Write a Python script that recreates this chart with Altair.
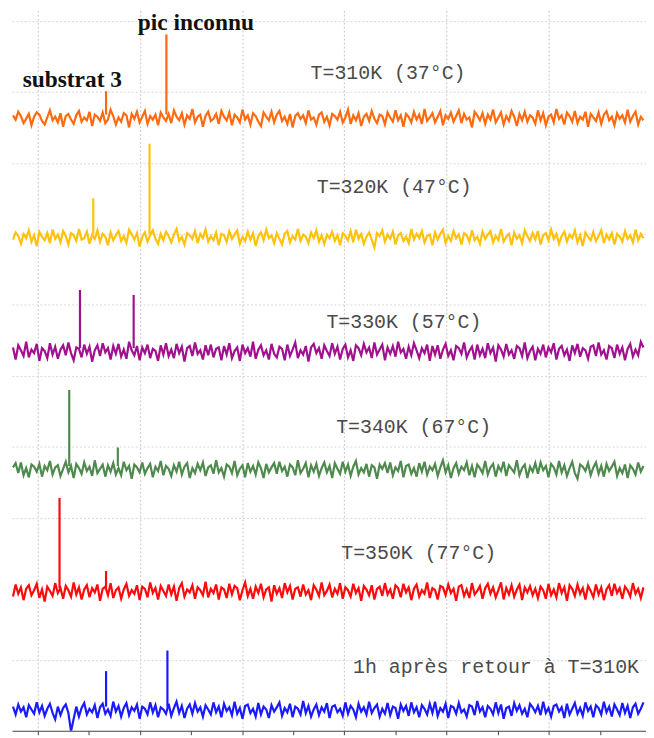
import altair as alt
import pandas as pd

# ---- data ----
series = ["T=310K", "T=320K", "T=330K", "T=340K", "T=350K", "1h retour 310K"]
colors = ["#ff6a0e", "#ffc20a", "#a0108f", "#4e8a4e", "#ff0a0a", "#1a1aff"]
offsets = [86.3, 69.5, 53.4, 36.8, 19.6, 2.9]

noise_310 = [
0.4,-0.2,0.9,0.3,-0.7,-0.1,0.6,-1.0,0.2,0.8,0.5,-0.4,-0.9,0.1,1.1,-0.3,0.2,-0.6,0.7,-1.2,
0.3,0.6,-0.2,-0.8,0.4,1.0,-0.5,0.1,-0.3,0.9,-1.1,0.5,0.2,-0.4,0.8,-0.7,-0.2,1.2,0.3,-0.9,
0.1,-0.5,0.7,0.4,-1.3,0.6,-0.1,0.9,-0.6,0.2,1.0,-0.8,0.3,-0.2,0.5,-1.0,0.8,0.1,-0.4,0.6,
-0.7,1.1,0.2,-0.3,0.7,-0.9,0.4,-0.1,1.3,-0.6,0.2,0.5,-1.2,0.3,0.9,-0.4,-0.1,0.6,-0.8,1.0,
0.2,-0.3,0.8,-1.0,0.5,0.1,-0.6,1.2,-0.2,0.4,-0.9,0.7,0.3,-0.5,-1.1,0.8,0.2,-0.3,0.9,-0.6,
0.5,1.0,-0.4,0.2,-0.8,0.6,-1.3,0.3,0.7,-0.1,0.4,-0.7,1.1,-0.2,0.1,-0.9,0.5,0.8,-0.5,0.2,
-1.0,0.6,0.3,-0.2,0.9,-0.6,0.1,1.2,-0.8,0.4,-0.3,0.7,-1.1,0.2,0.6,-0.4,1.0,-0.1,-0.7,0.5,
0.3,-0.9,0.8,0.1,-0.5,1.1,-0.3,0.4,-1.2,0.6,0.2,-0.6,0.9,-0.2,0.5,-0.8,1.3,-0.4,0.1,0.7,
-0.6,0.2,1.0,-1.0,0.4,-0.1,0.8,-0.5,0.3,1.1,-0.7,0.6,-0.2,0.1,-1.3,0.9,0.4,-0.3,0.7,-0.8,
0.5,-0.2,1.2,-0.6,0.1,0.8,-0.9,0.3,-0.4,1.0,0.2,-1.1,0.6,-0.3,0.9,-0.5,0.4,0.1,-0.8,1.1,
-0.3,0.7,-1.0,0.2,0.5,-0.6,1.3,-0.1,0.4,-0.9,0.8,0.3,-0.5,1.0,-0.7,0.2,-0.2,0.9,-1.2,0.6,
0.1,-0.4,0.8,-0.8,0.5,1.0,-0.3,0.2,-1.0,0.7,-0.1,0.4,-0.6,1.2,-0.5,0.3,0.9,-0.9,0.2,-0.3]

noise_320 = [
-0.3,0.7,0.2,-0.9,0.5,-0.1,1.0,-0.6,0.3,-1.2,0.8,0.1,-0.4,0.6,-0.8,1.1,-0.2,0.4,-0.7,0.9,
0.2,-1.0,0.6,0.3,-0.5,1.2,-0.3,-0.1,0.8,-0.9,0.4,-0.2,1.0,-0.6,0.5,0.1,-1.1,0.7,-0.4,0.3,
0.9,-0.5,0.2,-0.8,1.1,0.4,-0.3,0.6,-1.3,0.1,0.7,-0.6,0.3,1.0,-0.2,-0.9,0.5,-0.4,0.8,0.2,
-0.7,0.4,1.2,-0.5,0.1,-1.0,0.6,0.3,-0.2,0.9,-0.8,0.5,-0.1,1.1,-0.6,0.2,-0.4,0.7,-1.1,0.5,
0.3,-0.6,0.9,-0.2,0.4,1.0,-0.9,0.1,-0.5,0.8,-0.3,0.6,-1.2,0.2,0.7,-0.4,1.1,-0.1,0.3,-0.8,
0.6,-0.2,-1.0,0.5,0.9,-0.7,0.2,-0.3,1.2,-0.5,0.4,0.1,-0.8,0.7,-0.1,1.0,-0.6,0.3,-0.9,0.4,
-0.1,0.8,-0.5,0.3,-1.1,0.6,0.2,-0.4,0.9,-0.7,1.1,-0.2,0.5,-0.9,0.1,0.7,-0.3,-1.4,0.6,0.2,
1.0,-0.6,0.4,-0.2,0.8,-1.0,0.3,0.6,-0.5,0.1,-0.8,1.2,-0.3,0.5,-0.1,0.9,-0.7,0.2,0.4,-1.1,
0.7,-0.3,0.5,1.1,-0.8,0.2,-0.5,0.9,-0.1,0.4,-1.0,0.6,0.3,-0.6,1.0,-0.4,0.1,-0.9,0.8,-0.2,
0.4,0.9,-0.7,0.2,-0.4,1.2,-0.6,0.1,0.5,-1.1,0.7,-0.2,0.3,-0.8,1.0,0.2,-0.5,0.6,-0.3,0.9,
-1.0,0.3,0.6,-0.4,1.1,-0.2,0.5,-0.9,0.2,0.8,-0.6,0.4,-0.1,1.0,-0.7,0.3,-1.2,0.7,0.1,-0.4,
0.8,-0.5,0.2,1.0,-0.8,0.4,-0.3,0.6,-1.0,0.5,0.1,-0.6,0.9,-0.2,0.3,-0.7,1.1,-0.4,0.5,-0.1]

noise_330 = [
0.6,-1.1,0.9,0.2,-0.6,1.4,-0.8,0.3,-0.2,1.1,-1.3,0.5,0.1,-0.9,1.2,-0.4,0.7,-1.0,0.3,0.9,
-0.5,1.3,-0.2,-1.2,0.6,0.4,-0.8,1.0,-0.3,0.7,-1.4,0.2,0.9,-0.6,1.2,-0.1,0.5,-1.1,0.8,-0.3,
1.1,-0.7,0.3,-1.0,1.4,0.2,-0.5,0.8,-1.2,0.6,-0.2,1.0,-0.9,0.4,0.1,-1.3,0.9,-0.4,1.2,-0.6,
0.3,-0.9,1.1,-0.2,0.7,-1.4,0.5,0.8,-0.6,1.3,-0.3,0.2,-1.1,0.9,-0.5,1.0,-0.8,0.4,0.6,-1.2,
0.8,-0.4,1.2,-0.9,0.1,0.6,-1.3,1.0,-0.2,0.5,-0.7,1.4,-1.0,0.3,0.9,-0.5,0.2,-1.1,1.1,-0.3,
-0.8,0.7,0.4,-1.2,1.0,-0.6,0.3,1.3,-0.9,0.2,-0.4,0.8,-1.4,0.6,1.1,-0.2,0.5,-1.0,0.9,0.1,
-0.6,1.2,-0.3,0.7,-1.1,0.4,1.0,-0.8,0.2,-1.3,0.9,0.5,-0.5,1.1,-0.1,0.6,-0.9,1.3,-0.4,0.3,
1.0,-1.2,0.6,-0.3,0.8,-0.7,1.4,-0.1,0.4,-1.0,0.7,-0.5,1.2,0.2,-0.9,0.5,-0.2,1.0,-1.3,0.8,
-0.4,0.9,-1.0,0.3,1.1,-0.6,0.2,-1.2,0.8,0.5,-0.3,1.3,-0.8,0.1,0.7,-1.1,1.0,-0.5,0.4,-0.9,
1.2,-0.2,0.6,-1.4,0.9,0.3,-0.7,1.1,-0.4,0.2,-1.0,0.8,0.5,-0.6,1.3,-0.9,0.1,0.7,-1.2,0.4,
-0.3,1.0,-0.8,0.6,-0.1,1.2,-1.1,0.4,0.8,-0.5,0.3,-1.3,0.9,-0.2,1.1,-0.7,0.5,0.2,-1.0,0.7,
0.9,-0.6,1.3,-0.4,0.2,-1.1,0.8,0.5,-0.9,1.0,-0.3,0.6,-1.2,0.4,1.1,-0.7,0.3,-0.5,1.4,0.6]

noise_340 = [
0.3,0.9,-0.5,1.0,-0.8,0.2,-1.1,0.7,0.4,-0.3,0.8,-1.0,0.5,-0.1,1.2,-0.7,0.3,0.6,-0.9,0.1,
1.1,-0.4,0.5,-1.2,0.8,0.2,-0.6,1.0,-0.2,0.4,-0.9,1.3,-0.5,0.1,0.7,-1.0,0.6,-0.3,0.9,-0.7,
0.2,-0.8,1.1,-0.1,0.5,-1.3,0.7,0.3,-0.4,1.0,-0.6,0.2,0.8,-1.1,0.4,-0.2,1.2,-0.8,0.5,0.1,
-0.9,0.6,-0.3,1.1,-0.7,0.4,0.9,-1.2,0.2,-0.5,0.8,-0.1,1.0,-0.9,0.3,0.6,-0.6,1.3,-0.4,0.2,
-1.0,0.7,0.4,-0.5,1.2,-0.8,0.1,0.6,-1.1,0.9,-0.3,0.5,-0.7,1.0,0.2,-1.2,0.8,-0.4,0.3,0.9,
-0.6,1.1,-0.2,0.4,-1.0,0.7,0.3,-0.8,1.3,-0.5,0.1,0.9,-1.1,0.6,-0.3,0.8,-0.9,0.2,1.0,-0.4,
0.5,-1.2,0.9,0.1,-0.6,1.1,-0.3,0.7,-0.9,0.4,1.2,-0.7,0.2,-0.4,0.8,-1.0,0.6,0.3,-1.3,0.7,
0.1,0.9,-0.5,1.0,-0.8,0.3,-0.2,1.2,-1.1,0.5,0.7,-0.6,0.2,-1.0,0.9,-0.3,1.1,-0.7,0.4,-0.1,
0.8,-0.9,0.3,1.3,-0.4,0.6,-1.2,0.2,0.9,-0.6,0.4,-0.1,1.0,-0.8,0.5,-1.1,0.7,0.2,-0.5,1.2,
-0.7,0.3,0.8,-1.0,0.5,-0.2,1.1,-0.9,0.6,0.1,-0.4,1.3,-0.8,0.2,0.7,-1.2,0.4,-0.3,0.9,-0.6,
1.0,-0.1,0.5,-1.1,0.8,0.3,-0.7,1.2,-0.4,0.6,-0.9,0.2,1.1,-0.5,-1.3,0.7,0.4,-0.2,0.9,-0.8,
0.3,1.0,-0.6,0.5,-1.0,0.8,-0.2,0.4,1.1,-0.9,0.2,-0.5,0.7,-1.2,0.6,0.1,-0.7,1.0,-0.3,0.5]

noise_350 = [
-0.7,1.0,-0.3,0.6,-1.2,0.4,0.9,-0.5,0.2,1.1,-0.9,0.3,-1.4,0.7,0.1,-0.6,1.2,-0.2,0.5,-1.0,
0.8,0.2,-0.7,1.3,-0.4,0.6,-1.1,0.3,0.9,-0.8,0.5,-0.1,1.0,-1.3,0.4,0.7,-0.5,1.2,-0.9,0.2,
0.6,-1.0,0.3,1.1,-0.6,0.2,-0.3,0.9,-1.2,0.7,0.4,-0.8,1.3,-0.2,0.5,-1.1,0.8,0.1,-0.6,1.0,
-0.4,0.7,-1.3,0.5,1.2,-0.7,0.3,-0.1,0.9,-1.0,0.6,0.2,-0.5,1.4,-0.8,0.4,-0.2,1.0,-1.1,0.6,
0.3,-0.9,1.1,-0.4,0.8,0.5,-1.2,0.2,1.3,-0.6,0.4,-1.0,0.7,-0.2,1.1,-0.8,0.3,0.6,-1.4,0.9,
-0.3,0.5,-0.9,1.2,-0.1,0.8,-1.1,0.4,0.6,-0.7,1.0,-0.4,0.2,-1.2,0.9,0.3,-0.6,1.3,-0.5,0.1,
1.0,-0.8,0.4,-0.3,1.2,-1.0,0.6,0.2,-0.7,1.1,-0.2,0.5,-1.3,0.8,0.3,-0.5,0.9,-1.1,0.4,0.7,
-0.6,1.2,-0.4,0.3,-1.0,0.9,0.5,-0.8,1.1,-0.1,0.6,-1.2,0.4,1.0,-0.7,0.2,-0.3,1.3,-0.9,0.5,
0.2,-1.1,0.8,0.6,-0.5,1.0,-0.2,0.4,-1.3,0.7,0.9,-0.6,0.3,-0.9,1.2,-0.4,0.1,0.8,-1.0,0.5,
1.1,-0.3,0.6,-0.8,0.2,1.3,-1.1,0.5,-0.4,0.9,-0.7,0.3,1.0,-1.2,0.6,-0.1,0.8,-0.5,0.4,-0.9,
0.7,0.2,-1.0,1.1,-0.5,0.3,-0.8,1.2,-0.2,0.6,-1.3,0.9,0.4,-0.6,1.0,-0.3,0.5,-1.1,0.8,0.1,
-0.8,1.0,-0.4,0.6,-1.2,0.3,0.9,-0.6,1.1,-0.2,0.5,-1.0,0.7,0.2,-0.7,1.2,-0.3,0.4,-0.9,0.6]

noise_retour = [
0.5,-0.6,0.8,-0.2,0.4,-1.0,0.7,0.1,-0.5,1.1,-0.3,0.6,-0.8,0.2,0.9,-0.4,-1.3,0.5,-0.7,0.3,
0.8,-0.4,-3.0,-1.2,0.5,-0.9,0.3,1.0,-0.6,0.2,-0.3,0.7,-1.1,0.4,0.9,-0.5,0.1,-0.8,1.2,-0.2,
0.6,-0.9,0.3,1.0,-0.7,0.4,-0.1,0.8,-1.2,0.5,0.2,-0.6,1.1,-0.3,0.7,-1.0,0.4,0.1,-0.5,0.9,
-0.8,0.3,1.2,-0.4,0.6,-1.1,0.2,0.8,-0.5,1.0,-0.2,0.4,-0.9,0.7,0.1,-0.6,1.1,-0.3,0.5,-1.0,
0.9,-0.1,0.4,-0.7,1.2,-0.5,0.3,-1.2,0.6,0.8,-0.4,0.2,-0.9,1.0,-0.6,0.5,0.1,-1.1,0.7,-0.2,
0.4,1.1,-0.8,0.3,-0.3,0.9,-1.0,0.5,0.2,-0.6,1.3,-0.4,0.6,-0.9,0.1,0.8,-0.7,0.4,-0.2,1.0,
-1.1,0.5,0.7,-0.3,0.2,-0.8,1.1,-0.5,0.6,0.1,-1.0,0.9,-0.2,0.4,-0.6,1.2,-0.4,0.3,0.8,-0.9,
0.2,-0.5,1.0,-0.7,0.5,0.3,-1.2,0.8,-0.1,0.6,-0.8,1.1,-0.3,0.4,-1.0,0.7,0.2,-0.6,0.9,-0.4,
1.2,-0.8,0.3,-0.2,0.9,-1.1,0.6,0.4,-0.5,1.0,-0.3,0.1,-0.9,0.7,0.5,-0.7,1.3,-0.2,0.4,-1.0,
0.6,0.2,-0.6,1.1,-0.4,0.8,-1.2,0.3,0.5,-0.8,1.0,-0.1,0.7,-0.5,0.2,-1.0,0.9,0.4,-0.3,0.6,
-0.7,1.2,-0.4,0.3,-0.9,0.6,0.8,-0.2,0.4,-1.1,0.9,-0.6,0.2,1.0,-0.5,0.3,-0.8,1.1,-0.1,0.5,
-1.0,0.7,0.3,-0.6,1.2,-0.3,0.5,-0.9,0.8,0.1,-0.7,1.0,-0.4,0.6,-1.1,0.4,0.9,-0.5,0.2,1.1]

noises = [noise_310, noise_320, noise_330, noise_340, noise_350, noise_retour]

peak_pos = [[1.34, 2.52], [1.09, 2.19], [0.83, 1.88], [0.62, 1.57], [0.43, 1.34], [1.34, 2.54]]
peak_h = [[3.8, 11.8], [5.5, 13.2], [8.7, 8.0], [11.2, 3.1], [13.2, 2.9], [5.5, 8.4]]

temp_labels = ["T=310K (37°C)", "T=320K (47°C)", "T=330K (57°C)", "T=340K (67°C)",
               "T=350K (77°C)", "1h après retour à T=310K"]
temp_label_x = [5.34, 5.46, 5.65, 5.84, 5.94, 6.17]
temp_label_y = [91.8, 75.7, 56.7, 42.0, 24.2, 8.1]

annot_labels = ["pic inconnu", "substrat 3"]
annot_x = [1.96, -0.29]
annot_y = [98.7, 90.7]

X0, X1 = -0.48, 11.85
XDOM = [-0.5, 11.9]
YDOM = [0, 101.5]

# ---- tables ----
rows = []
for s, off, nz in zip(series, offsets, noises):
    n = len(nz)
    for i, v in enumerate(nz):
        rows.append({"series": s, "x": X0 + i * (X1 - X0) / (n - 1), "y": off + v})
line_df = pd.DataFrame(rows)

prow = []
for s, off, pp, ph in zip(series, offsets, peak_pos, peak_h):
    for p, h in zip(pp, ph):
        prow.append({"series": s, "x": p, "y": off + 0.5, "y2": off + h})
peak_df = pd.DataFrame(prow)

tlab_df = pd.DataFrame({"text": temp_labels, "x": temp_label_x, "y": temp_label_y})
alab_df = pd.DataFrame({"text": annot_labels, "x": annot_x, "y": annot_y})

xscale = alt.Scale(domain=XDOM, nice=False, zero=False)
yscale = alt.Scale(domain=YDOM, nice=False, zero=False)
cscale = alt.Scale(domain=series, range=colors)

xaxis = alt.Axis(values=list(range(0, 12)), grid=True, labels=False, title=None,
                 ticks=True, tickSize=4, tickColor="#444", domainColor="#444",
                 gridDash=[2, 2], gridColor="#c8c8c8",
                 gridOpacity={"condition": {"test": "datum.value % 2 === 0", "value": 1}, "value": 0})
yaxis = alt.Axis(values=[10, 20, 30, 40, 50, 60, 70, 80, 90, 100], grid=True, labels=False,
                 ticks=False, domain=False, title=None, gridDash=[2, 2], gridColor="#d8d8d8")

lines = alt.Chart(line_df).mark_line(strokeWidth=2.2, clip=True, strokeJoin="miter").encode(
    x=alt.X("x:Q", scale=xscale, axis=xaxis),
    y=alt.Y("y:Q", scale=yscale, axis=yaxis),
    color=alt.Color("series:N", scale=cscale, legend=None),
    detail="series:N",
)

peaks = alt.Chart(peak_df).mark_rule(strokeWidth=2.2).encode(
    x=alt.X("x:Q", scale=xscale),
    y=alt.Y("y:Q", scale=yscale),
    y2="y2:Q",
    color=alt.Color("series:N", scale=cscale, legend=None),
)

tlabels = alt.Chart(tlab_df).mark_text(
    font="Liberation Mono", fontSize=20, color="#4a4a4a", align="left", baseline="alphabetic"
).encode(
    x=alt.X("x:Q", scale=xscale),
    y=alt.Y("y:Q", scale=yscale),
    text="text:N",
)

alabels = alt.Chart(alab_df).mark_text(
    font="Liberation Serif", fontSize=23.5, fontWeight="bold", color="#111", align="left",
    baseline="alphabetic"
).encode(
    x=alt.X("x:Q", scale=xscale),
    y=alt.Y("y:Q", scale=yscale),
    text="text:N",
)

chart = alt.layer(lines, peaks, tlabels, alabels).properties(
    width=638, height=725, padding={"left": 4, "top": 0, "right": 0, "bottom": 0},
    background="white",
).configure_view(stroke=None)

chart.save("out.html", embed_options={"renderer": "svg", "actions": False})
